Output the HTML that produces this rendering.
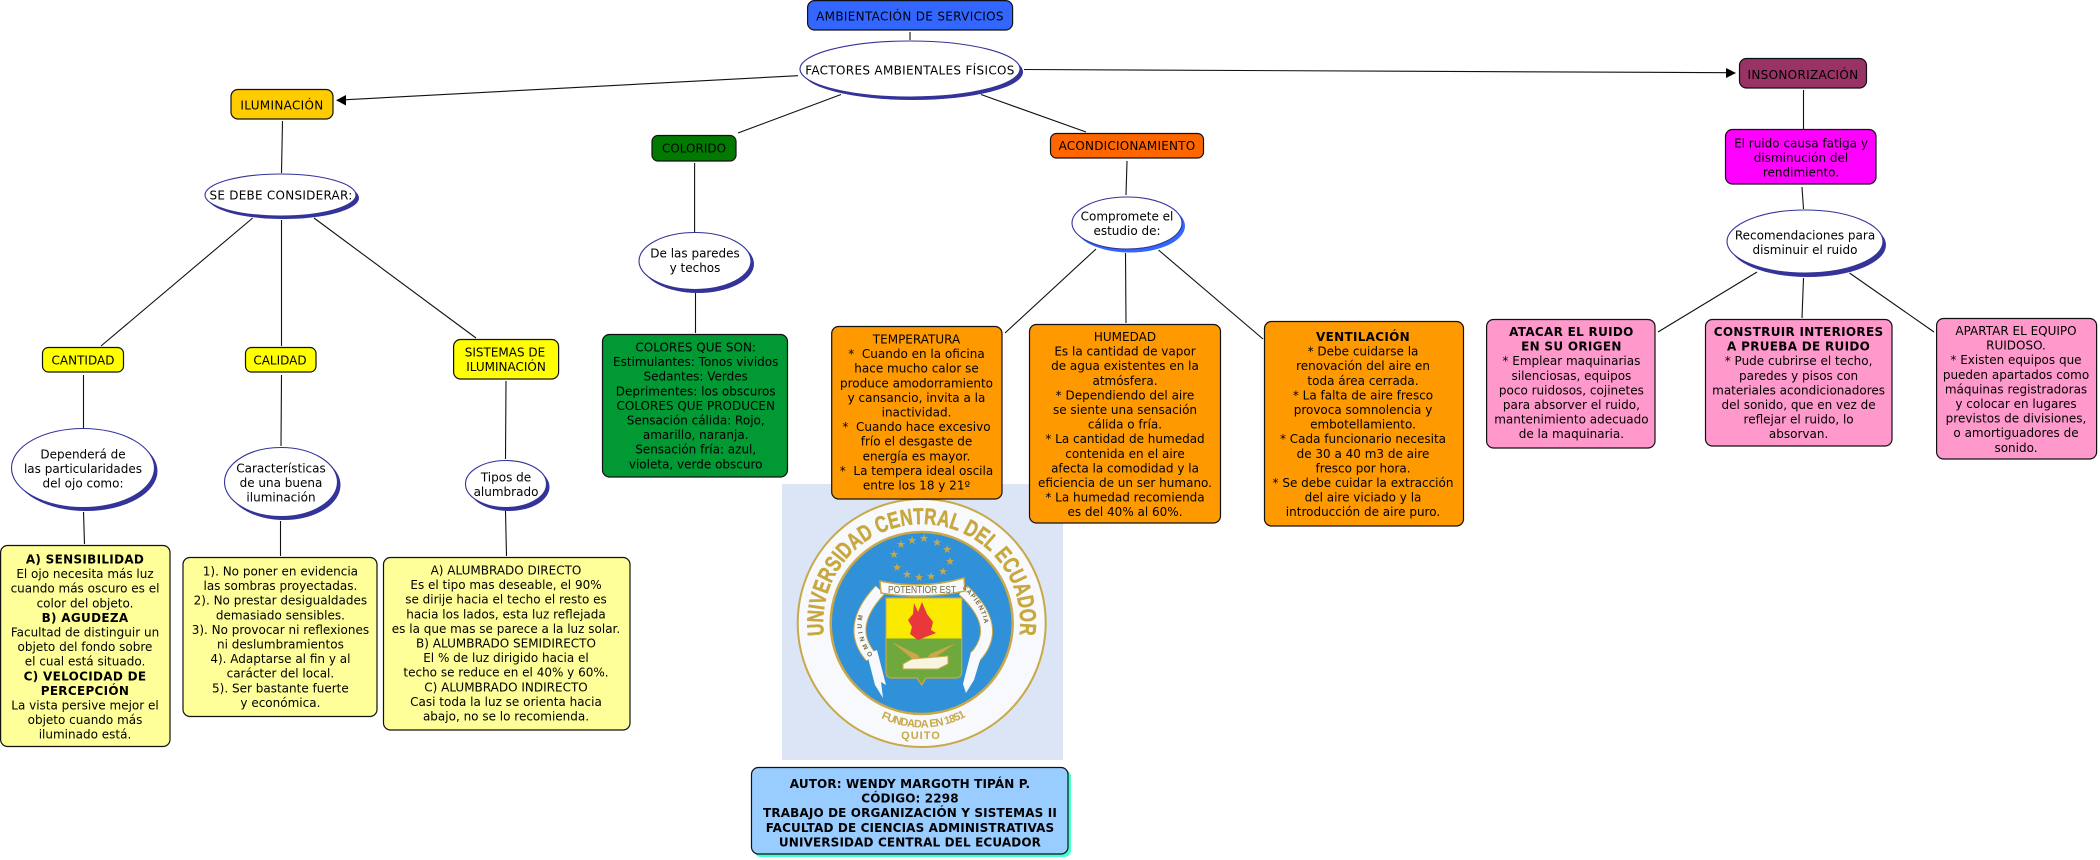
<!DOCTYPE html>
<html>
<head>
<meta charset="utf-8">
<style>
html,body{margin:0;padding:0;background:#fff;width:2100px;height:860px;overflow:hidden}
svg{display:block}
text{font-family:"DejaVu Sans","Liberation Sans",sans-serif;font-size:12px;text-anchor:middle;fill:#000}
.b{font-weight:bold;letter-spacing:.3px}
.a{font-weight:bold;letter-spacing:.13px}
.u{letter-spacing:.32px}
.l line,.l{stroke:#111;stroke-width:1.1}
.n{stroke:#111;stroke-width:1.2}
.sh{fill:#333399}
.el{fill:#fff;stroke:#333399;stroke-width:1.1}
.st{font-size:11px;fill:#c8a848}
.lg{font-family:"Liberation Sans",sans-serif;font-weight:bold}
</style>
</head>
<body>
<svg width="2100" height="860" viewBox="0 0 2100 860" xmlns="http://www.w3.org/2000/svg">
<rect width="2100" height="860" fill="#fff"/>

<!-- logo -->
<rect x="782" y="484" width="281" height="276" fill="#dbe5f5"/>
<circle cx="921.7" cy="623" r="124" fill="#f7f9fc" stroke="#c8a848" stroke-width="2"/>
<circle cx="921.7" cy="623" r="91" fill="#3090d8" stroke="#c8a848" stroke-width="2.5"/>
<defs>
<path id="arcTop" d="M 824 635.2 A 98.5 98.5 0 1 1 1019.4 635.2"/>
<path id="arcBot" d="M 881 718 A 93 93 0 0 0 965 717"/>
<path id="arcL" d="M 873 655 Q 848 620 879 590"/>
<path id="arcR" d="M 962 588 Q 998 620 977 654"/>
</defs>
<text class="lg" style="font-size:23px;fill:#c8a83e;stroke:#c8a83e;stroke-width:.5;text-anchor:start"><textPath href="#arcTop" textLength="334" lengthAdjust="spacingAndGlyphs">UNIVERSIDAD CENTRAL DEL ECUADOR</textPath></text>
<text class="lg" style="font-size:11px;fill:#c8a848;text-anchor:start"><textPath href="#arcBot" textLength="88">FUNDADA EN 1851</textPath></text>
<text class="lg" x="921" y="739" style="font-size:11px;fill:#c8a848;letter-spacing:1px">QUITO</text>
<text class="st" x="901" y="548">★</text><text class="st" x="912" y="544">★</text><text class="st" x="924" y="542">★</text><text class="st" x="937" y="546">★</text><text class="st" x="947" y="553">★</text><text class="st" x="950" y="565">★</text><text class="st" x="943" y="575">★</text><text class="st" x="931" y="580">★</text><text class="st" x="919" y="581">★</text><text class="st" x="907" y="578">★</text><text class="st" x="897" y="571">★</text><text class="st" x="894" y="558">★</text>
<path d="M 880 590 Q 845 627 871 657" fill="none" stroke="#c8a848" stroke-width="13"/>
<path d="M 880 590 Q 845 627 871 657" fill="none" stroke="#f7f9fc" stroke-width="11"/>
<path d="M 963 590 Q 1003 627 975 657" fill="none" stroke="#c8a848" stroke-width="13"/>
<path d="M 963 590 Q 1003 627 975 657" fill="none" stroke="#f7f9fc" stroke-width="11"/>
<polygon points="867,654 877,650 886,685 881,682 883,698 875,685" fill="#f7f9fc"/>
<polygon points="971,652 981,657 974,680 966,693 963,684 967,668" fill="#f7f9fc"/>
<path d="M 880 581 Q 922 590 964 578 L 965 591 Q 922 600 881 593 Z" fill="#f7f9fc" stroke="#c8a848" stroke-width="1.5"/>
<text class="lg" x="922" y="593" textLength="68" lengthAdjust="spacingAndGlyphs" style="font-size:10px;font-weight:normal;fill:#776a40">POTENTIOR EST</text>
<path d="M 886 598 H 961.7 V 672 Q 961.7 678 955 678 H 926 L 921.7 685 L 917 678 H 892 Q 886 678 886 672 Z" fill="#6fa83c" stroke="#c8a848" stroke-width="1.2"/>
<rect x="886.5" y="598.5" width="75" height="40" fill="#f9ea00"/>
<polygon points="914,603 918,612 922,602 927,614 933,622 931,630 936,633 918,640 910,634 912,627 908,620 913,614" fill="#e8383c"/>
<polygon points="892,642 918,655 922,661 915,661" fill="#c8a848"/>
<polygon points="956,643 930,661 925,661 930,654" fill="#c8a848"/>
<polygon points="903,664 912,659 948,656 948,664 938,669 903,669" fill="#f7f4e0" stroke="#c8a848"/>
<text class="lg" style="font-size:6.5px;fill:#776a40;text-anchor:start;letter-spacing:3px"><textPath href="#arcL">OMNIUM</textPath></text>
<text class="lg" style="font-size:6.5px;fill:#776a40;text-anchor:start;letter-spacing:1px"><textPath href="#arcR">SAPIENTIA</textPath></text>

<!-- connectors -->
<g class="l">
<line x1="910" y1="32" x2="910" y2="40"/>
<line x1="798" y1="75.7" x2="344" y2="99.8"/>
<line x1="1024" y1="69.5" x2="1728" y2="72.7"/>
<line x1="841" y1="94.5" x2="738" y2="133"/>
<line x1="981" y1="94.5" x2="1086" y2="132"/>
<line x1="282.5" y1="121" x2="281.5" y2="173"/>
<line x1="252.7" y1="218" x2="101" y2="346"/>
<line x1="281.5" y1="220" x2="281.5" y2="346"/>
<line x1="314" y1="218" x2="476" y2="338"/>
<line x1="83.5" y1="375" x2="83.5" y2="429"/>
<line x1="281.5" y1="375" x2="281" y2="446"/>
<line x1="506" y1="381" x2="505.5" y2="459"/>
<line x1="83.5" y1="512" x2="84.5" y2="544"/>
<line x1="280.5" y1="521" x2="280.5" y2="556"/>
<line x1="505.5" y1="511" x2="506.5" y2="556"/>
<line x1="694.6" y1="163" x2="694.6" y2="232"/>
<line x1="695.5" y1="293" x2="695.5" y2="333"/>
<line x1="1127" y1="161" x2="1126" y2="195"/>
<line x1="1096" y1="249" x2="1005" y2="333"/>
<line x1="1125.5" y1="253" x2="1126" y2="323"/>
<line x1="1158.5" y1="250" x2="1263" y2="339"/>
<line x1="1803.5" y1="90" x2="1803.5" y2="129"/>
<line x1="1802" y1="187" x2="1803.5" y2="209"/>
<line x1="1757" y1="272" x2="1658" y2="332"/>
<line x1="1803.5" y1="278" x2="1802" y2="318"/>
<line x1="1849.5" y1="273" x2="1934" y2="332"/>
</g>
<polygon points="336,100.3 346,95 346,105.5" fill="#000"/>
<polygon points="1736,73 1726,68 1726,78" fill="#000"/>

<!-- rounded nodes -->
<rect class="n" x="807.6" y="0.6" width="205" height="29.4" rx="7" fill="#3366ff"/>
<rect class="n" x="231" y="89.5" width="102" height="29.5" rx="7" fill="#ffcc00"/>
<rect class="n" x="652" y="135.5" width="84" height="25.5" rx="6" fill="#007a00"/>
<rect class="n" x="1050.5" y="133.5" width="153" height="24.5" rx="6" fill="#ff6600"/>
<rect class="n" x="1739.5" y="58.5" width="127" height="29.5" rx="7" fill="#993366"/>
<rect class="n" x="1725.5" y="129.5" width="150.5" height="54.5" rx="7" fill="#ff00ff"/>
<rect class="n" x="42.5" y="347.5" width="81" height="24.5" rx="6" fill="#ffff00"/>
<rect class="n" x="245.5" y="347.5" width="70.5" height="24.5" rx="6" fill="#ffff00"/>
<rect class="n" x="453.6" y="339.5" width="105" height="39.5" rx="7" fill="#ffff00"/>
<rect class="n" x="0.6" y="545.5" width="169.4" height="201" rx="7" fill="#ffff99"/>
<rect class="n" x="183" y="557.5" width="194" height="159" rx="7" fill="#ffff99"/>
<rect class="n" x="383.5" y="557.5" width="246.5" height="172.5" rx="7" fill="#ffff99"/>
<rect class="n" x="602.5" y="334.5" width="185" height="142.5" rx="7" fill="#009933"/>
<rect class="n" x="831.7" y="326.5" width="170.3" height="172.5" rx="7" fill="#ff9900"/>
<rect class="n" x="1029.5" y="324.5" width="191" height="198.5" rx="7" fill="#ff9900"/>
<rect class="n" x="1264.5" y="321.5" width="199" height="204.5" rx="7" fill="#ff9900"/>
<rect class="n" x="1486.6" y="319.5" width="168.4" height="128.5" rx="7" fill="#ff99cc"/>
<rect class="n" x="1705.5" y="319.5" width="186.5" height="126.5" rx="7" fill="#ff99cc"/>
<rect class="n" x="1936.6" y="318.5" width="160" height="140.5" rx="7" fill="#ff99cc"/>
<rect x="754" y="770" width="317" height="87" rx="7" fill="#44ffcc"/>
<rect class="n" x="751.5" y="767.5" width="316.5" height="86.5" rx="7" fill="#99ccff"/>

<!-- ellipses -->
<ellipse class="sh" cx="913" cy="72" rx="110" ry="28"/>
<ellipse class="el" cx="910" cy="69" rx="110" ry="28"/>
<ellipse class="sh" cx="283.5" cy="198" rx="75.5" ry="21"/>
<ellipse class="el" cx="280.5" cy="195" rx="75.5" ry="21"/>
<ellipse class="sh" cx="698" cy="264" rx="56" ry="29"/>
<ellipse class="el" cx="695" cy="261" rx="56" ry="28.5"/>
<ellipse style="fill:#3366ff" cx="1130" cy="226" rx="55" ry="26.5"/>
<ellipse class="el" cx="1127" cy="223" rx="55" ry="26"/>
<ellipse class="sh" cx="1808" cy="245" rx="78" ry="32"/>
<ellipse class="el" cx="1805" cy="241.5" rx="78" ry="31.5"/>
<ellipse class="sh" cx="86" cy="471" rx="71.5" ry="40"/>
<ellipse class="el" cx="83" cy="468" rx="71.5" ry="39.5"/>
<ellipse class="sh" cx="284" cy="485" rx="56.5" ry="35"/>
<ellipse class="el" cx="281" cy="482" rx="56.5" ry="34.5"/>
<ellipse class="sh" cx="509" cy="487" rx="40.5" ry="24"/>
<ellipse class="el" cx="506" cy="484" rx="40.5" ry="23.5"/>

<!-- labels -->
<text class="u" x="910" y="20.4">AMBIENTACIÓN DE SERVICIOS</text>
<text class="u" x="910" y="74.5">FACTORES AMBIENTALES FÍSICOS</text>
<text class="u" x="282" y="109.5">ILUMINACIÓN</text>
<text x="694" y="152.5">COLORIDO</text>
<text x="1127" y="150" style="letter-spacing:.2px">ACONDICIONAMIENTO</text>
<text class="u" x="1803" y="79">INSONORIZACIÓN</text>
<text y="147.5"><tspan x="1801">El ruido causa fatiga y</tspan><tspan x="1801" dy="14.6">disminución del</tspan><tspan x="1801" dy="14.6">rendimiento.</tspan></text>
<text y="239.5"><tspan x="1805">Recomendaciones para</tspan><tspan x="1805" dy="14.6">disminuir el ruido</tspan></text>
<text x="281" y="199.5" style="letter-spacing:.25px">SE DEBE CONSIDERAR:</text>
<text x="83" y="364.5">CANTIDAD</text>
<text x="280" y="364.5">CALIDAD</text>
<text y="356.5"><tspan x="505">SISTEMAS DE</tspan><tspan x="506" dy="14.6">ILUMINACIÓN</tspan></text>
<text y="257.5"><tspan x="695">De las paredes</tspan><tspan x="695" dy="14.6">y techos</tspan></text>
<text y="220.5"><tspan x="1127">Compromete el</tspan><tspan x="1127" dy="14.6">estudio de:</tspan></text>
<text y="458.5"><tspan x="83">Dependerá de</tspan><tspan x="83" dy="14.6">las particularidades</tspan><tspan x="83" dy="14.6">del ojo como:</tspan></text>
<text y="472.5"><tspan x="281">Características</tspan><tspan x="281" dy="14.6">de una buena</tspan><tspan x="281" dy="14.6">iluminación</tspan></text>
<text y="481.5"><tspan x="506">Tipos de</tspan><tspan x="506" dy="14.6">alumbrado</tspan></text>

<text y="563.5"><tspan x="85" class="b">A) SENSIBILIDAD</tspan><tspan x="85" dy="14.6">El ojo necesita más luz</tspan><tspan x="85" dy="14.6">cuando más oscuro es el</tspan><tspan x="85" dy="14.6">color del objeto.</tspan><tspan x="85" dy="14.6" class="b">B) AGUDEZA</tspan><tspan x="85" dy="14.6">Facultad de distinguir un</tspan><tspan x="85" dy="14.6">objeto del fondo sobre</tspan><tspan x="85" dy="14.6">el cual está situado.</tspan><tspan x="85" dy="14.6" class="b">C) VELOCIDAD DE</tspan><tspan x="85" dy="14.6" class="b">PERCEPCIÓN</tspan><tspan x="85" dy="14.6">La vista persive mejor el</tspan><tspan x="85" dy="14.6">objeto cuando más</tspan><tspan x="85" dy="14.6">iluminado está.</tspan></text>

<text y="575.5"><tspan x="280.4">1). No poner en evidencia</tspan><tspan x="280.4" dy="14.6">las sombras proyectadas.</tspan><tspan x="280.4" dy="14.6">2). No prestar desigualdades</tspan><tspan x="280.4" dy="14.6">demasiado sensibles.</tspan><tspan x="280.4" dy="14.6">3). No provocar ni reflexiones</tspan><tspan x="280.4" dy="14.6">ni deslumbramientos</tspan><tspan x="280.4" dy="14.6">4). Adaptarse al fin y al</tspan><tspan x="280.4" dy="14.6">carácter del local.</tspan><tspan x="280.4" dy="14.6">5). Ser bastante fuerte</tspan><tspan x="280.4" dy="14.6">y económica.</tspan></text>

<text y="574.5"><tspan x="506">A) ALUMBRADO DIRECTO</tspan><tspan x="506" dy="14.6">Es el tipo mas deseable, el 90%</tspan><tspan x="506" dy="14.6">se dirije hacia el techo el resto es</tspan><tspan x="506" dy="14.6">hacia los lados, esta luz reflejada</tspan><tspan x="506" dy="14.6">es la que mas se parece a la luz solar.</tspan><tspan x="506" dy="14.6">B) ALUMBRADO SEMIDIRECTO</tspan><tspan x="506" dy="14.6">El % de luz dirigido hacia el</tspan><tspan x="506" dy="14.6">techo se reduce en el 40% y 60%.</tspan><tspan x="506" dy="14.6">C) ALUMBRADO INDIRECTO</tspan><tspan x="506" dy="14.6">Casi toda la luz se orienta hacia</tspan><tspan x="506" dy="14.6">abajo, no se lo recomienda.</tspan></text>

<text y="351.5"><tspan x="695.7">COLORES QUE SON:</tspan><tspan x="695.7" dy="14.6">Estimulantes: Tonos vividos</tspan><tspan x="695.7" dy="14.6">Sedantes: Verdes</tspan><tspan x="695.7" dy="14.6">Deprimentes: los obscuros</tspan><tspan x="695.7" dy="14.6">COLORES QUE PRODUCEN</tspan><tspan x="695.7" dy="14.6">Sensación cálida: Rojo,</tspan><tspan x="695.7" dy="14.6">amarillo, naranja.</tspan><tspan x="695.7" dy="14.6">Sensación fría: azul,</tspan><tspan x="695.7" dy="14.6">violeta, verde obscuro</tspan></text>

<text y="343.5"><tspan x="916.5">TEMPERATURA</tspan><tspan x="916.5" dy="14.6">* &#160;Cuando en la oficina</tspan><tspan x="916.5" dy="14.6">hace mucho calor se</tspan><tspan x="916.5" dy="14.6">produce amodorramiento</tspan><tspan x="916.5" dy="14.6">y cansancio, invita a la</tspan><tspan x="916.5" dy="14.6">inactividad.</tspan><tspan x="916.5" dy="14.6">* &#160;Cuando hace excesivo</tspan><tspan x="916.5" dy="14.6">frío el desgaste de</tspan><tspan x="916.5" dy="14.6">energía es mayor.</tspan><tspan x="916.5" dy="14.6">* &#160;La tempera ideal oscila</tspan><tspan x="916.5" dy="14.6">entre los 18 y 21º</tspan></text>

<text y="341"><tspan x="1125">HUMEDAD</tspan><tspan x="1125" dy="14.6">Es la cantidad de vapor</tspan><tspan x="1125" dy="14.6">de agua existentes en la</tspan><tspan x="1125" dy="14.6">atmósfera.</tspan><tspan x="1125" dy="14.6">* Dependiendo del aire</tspan><tspan x="1125" dy="14.6">se siente una sensación</tspan><tspan x="1125" dy="14.6">cálida o fría.</tspan><tspan x="1125" dy="14.6">* La cantidad de humedad</tspan><tspan x="1125" dy="14.6">contenida en el aire</tspan><tspan x="1125" dy="14.6">afecta la comodidad y la</tspan><tspan x="1125" dy="14.6">eficiencia de un ser humano.</tspan><tspan x="1125" dy="14.6">* La humedad recomienda</tspan><tspan x="1125" dy="14.6">es del 40% al 60%.</tspan></text>

<text y="341"><tspan x="1363" class="b">VENTILACIÓN</tspan><tspan x="1363" dy="14.6">* Debe cuidarse la</tspan><tspan x="1363" dy="14.6">renovación del aire en</tspan><tspan x="1363" dy="14.6">toda área cerrada.</tspan><tspan x="1363" dy="14.6">* La falta de aire fresco</tspan><tspan x="1363" dy="14.6">provoca somnolencia y</tspan><tspan x="1363" dy="14.6">embotellamiento.</tspan><tspan x="1363" dy="14.6">* Cada funcionario necesita</tspan><tspan x="1363" dy="14.6">de 30 a 40 m3 de aire</tspan><tspan x="1363" dy="14.6">fresco por hora.</tspan><tspan x="1363" dy="14.6">* Se debe cuidar la extracción</tspan><tspan x="1363" dy="14.6">del aire viciado y la</tspan><tspan x="1363" dy="14.6">introducción de aire puro.</tspan></text>

<text y="336"><tspan x="1571.4" class="b">ATACAR EL RUIDO</tspan><tspan x="1571.4" dy="14.6" class="b">EN SU ORIGEN</tspan><tspan x="1571.4" dy="14.6">* Emplear maquinarias</tspan><tspan x="1571.4" dy="14.6">silenciosas, equipos</tspan><tspan x="1571.4" dy="14.6">poco ruidosos, cojinetes</tspan><tspan x="1571.4" dy="14.6">para absorver el ruido,</tspan><tspan x="1571.4" dy="14.6">mantenimiento adecuado</tspan><tspan x="1571.4" dy="14.6">de la maquinaria.</tspan></text>

<text y="336"><tspan x="1798.6" class="b">CONSTRUIR INTERIORES</tspan><tspan x="1798.6" dy="14.6" class="b">A PRUEBA DE RUIDO</tspan><tspan x="1798.6" dy="14.6">* Pude cubrirse el techo,</tspan><tspan x="1798.6" dy="14.6">paredes y pisos con</tspan><tspan x="1798.6" dy="14.6">materiales acondicionadores</tspan><tspan x="1798.6" dy="14.6">del sonido, que en vez de</tspan><tspan x="1798.6" dy="14.6">reflejar el ruido, lo</tspan><tspan x="1798.6" dy="14.6">absorvan.</tspan></text>

<text y="335"><tspan x="2016">APARTAR EL EQUIPO</tspan><tspan x="2016" dy="14.6">RUIDOSO.</tspan><tspan x="2016" dy="14.6">* Existen equipos que</tspan><tspan x="2016" dy="14.6">pueden apartados como</tspan><tspan x="2016" dy="14.6">máquinas registradoras</tspan><tspan x="2016" dy="14.6">y colocar en lugares</tspan><tspan x="2016" dy="14.6">previstos de divisiones,</tspan><tspan x="2016" dy="14.6">o amortiguadores de</tspan><tspan x="2016" dy="14.6">sonido.</tspan></text>

<text y="788" class="a"><tspan x="910">AUTOR: WENDY MARGOTH TIPÁN P.</tspan><tspan x="910" dy="14.6">CÓDIGO: 2298</tspan><tspan x="910" dy="14.6">TRABAJO DE ORGANIZACIÓN Y SISTEMAS II</tspan><tspan x="910" dy="14.6">FACULTAD DE CIENCIAS ADMINISTRATIVAS</tspan><tspan x="910" dy="14.6">UNIVERSIDAD CENTRAL DEL ECUADOR</tspan></text>
</svg>
</body>
</html>
